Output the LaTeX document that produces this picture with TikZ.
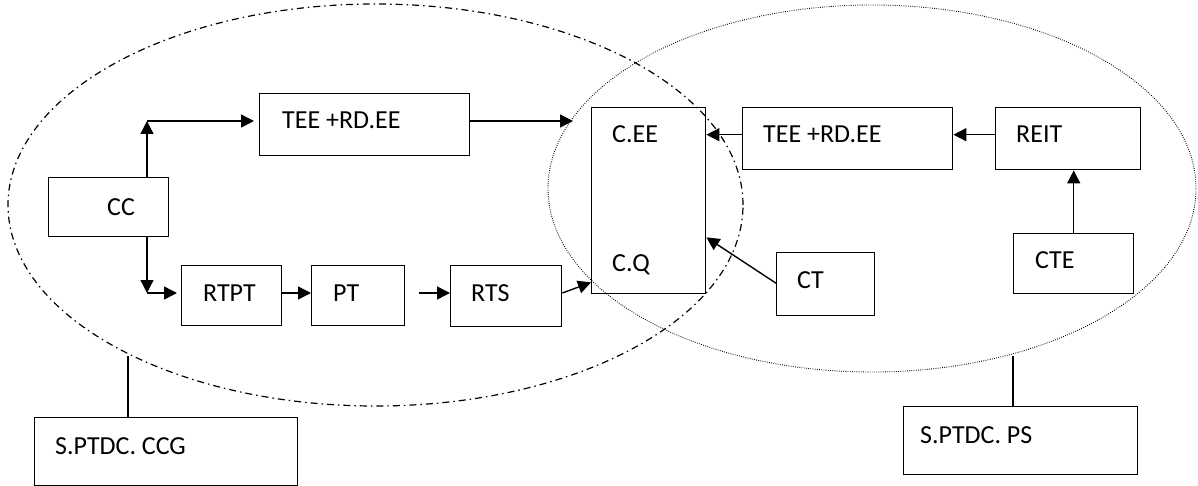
\documentclass[tikz,border=0pt]{standalone}
\usepackage{fontspec}
\setmainfont{Carlito}
\usetikzlibrary{arrows.meta}
\tikzset{
  box/.style={draw=black, line width=1.4pt, rectangle, inner sep=0pt, anchor=north west, fill=none},
  lbl/.style={anchor=base west, inner sep=0pt, font=\fontsize{26}{30}\selectfont},
  arr/.style={line width=1.4pt, -{Triangle[length=13pt,width=13pt]}},
  plain/.style={line width=1.4pt},
  dashdotline/.style={line width=1.2pt, dash pattern=on 7pt off 4pt on 1.5pt off 4pt},
  dotline/.style={line width=0.9pt, dash pattern=on 0.8pt off 1.4pt},
}
\begin{document}
\begin{tikzpicture}[x=1pt,y=-1pt]
\useasboundingbox (0,0) rectangle (1198,486);
% group outlines
\draw[dashdotline] (375.5,205) ellipse [x radius=367.5pt, y radius=201pt];
\draw[dotline] (872,188.5) ellipse [x radius=324pt, y radius=183.5pt];
% boxes
\node[box, minimum width=120pt, minimum height=59pt] (cc) at (48,177) {};
\node[box, minimum width=210pt, minimum height=62pt] (tee1) at (259,93) {};
\node[box, minimum width=114pt, minimum height=186pt] (ceq) at (591,107) {};
\node[box, minimum width=210pt, minimum height=62pt] (tee2) at (742,107) {};
\node[box, minimum width=145pt, minimum height=62pt] (reit) at (995,107) {};
\node[box, minimum width=120pt, minimum height=60pt] (cte) at (1013,233) {};
\node[box, minimum width=98pt, minimum height=63pt] (ct) at (776,252) {};
\node[box, minimum width=100pt, minimum height=60pt] (rtpt) at (181,265) {};
\node[box, minimum width=93pt, minimum height=60pt] (pt) at (311,265) {};
\node[box, minimum width=111pt, minimum height=61pt] (rts) at (450,265) {};
\node[box, minimum width=263pt, minimum height=68pt] (ccg) at (34,417) {};
\node[box, minimum width=234pt, minimum height=68pt] (ps) at (903,406) {};
% texts
\node[lbl] (tcc) at (107,215) {CC};
\node[lbl] (ttee1) at (282,129) {TEE +RD.EE};
\node[lbl] (tcee) at (612,143) {C.EE};
\node[lbl] (tcq) at (612,271) {C.Q};
\node[lbl] (ttee2) at (763,143) {TEE +RD.EE};
\node[lbl] (treit) at (1016,143) {REIT};
\node[lbl] (tcte) at (1035,269) {CTE};
\node[lbl] (tct) at (797,288) {CT};
\node[lbl] (trtpt) at (203,301) {RTPT};
\node[lbl] (tpt) at (333,301) {PT};
\node[lbl] (trts) at (471,301) {RTS};
\node[lbl] (tccg) at (55,454) {S.PTDC. CCG};
\node[lbl] (tps) at (920,443) {S.PTDC. PS};
% junctions
\coordinate (j1) at (147,121);
\coordinate (j2) at (147,293);
\coordinate (e1) at (128,356);
\coordinate (e2) at (1013,356);
% connectors
\draw[arr] (cc.north -| j1) -- (j1);
\draw[arr, shorten >=5pt] (j1) -- (tee1.west |- j1);
\draw[arr] (cc.south -| j2) -- (j2);
\draw[arr, shorten >=4pt] (j2) -- (rtpt.west |- j2);
\draw[arr] (rtpt.east |- j2) -- (pt.west |- j2);
\draw[arr] ([xshift=14pt]pt.east |- j2) -- (rts.west |- j2);
\draw[arr] (rts.east |- j2) -- ([yshift=12pt]ceq.south west);
\draw[arr, shorten >=18pt] (tee1.east |- j1) -- (ceq.west |- j1);
\draw[arr] ([yshift=4pt]tee2.west) -- ([yshift=4pt]tee2.west -| ceq.east);
\draw[arr] ([yshift=4pt]reit.west) -- ([yshift=4pt]reit.west -| tee2.east);
\draw[arr] (cte.north) -- (reit.south -| cte.north);
\draw[arr] ([yshift=1pt]ct.west) -- ([yshift=57pt]ceq.south east);
\draw[plain] (ccg.north -| e1) -- (e1);
\draw[plain] (ps.north -| e2) -- (e2);
\end{tikzpicture}
\end{document}
